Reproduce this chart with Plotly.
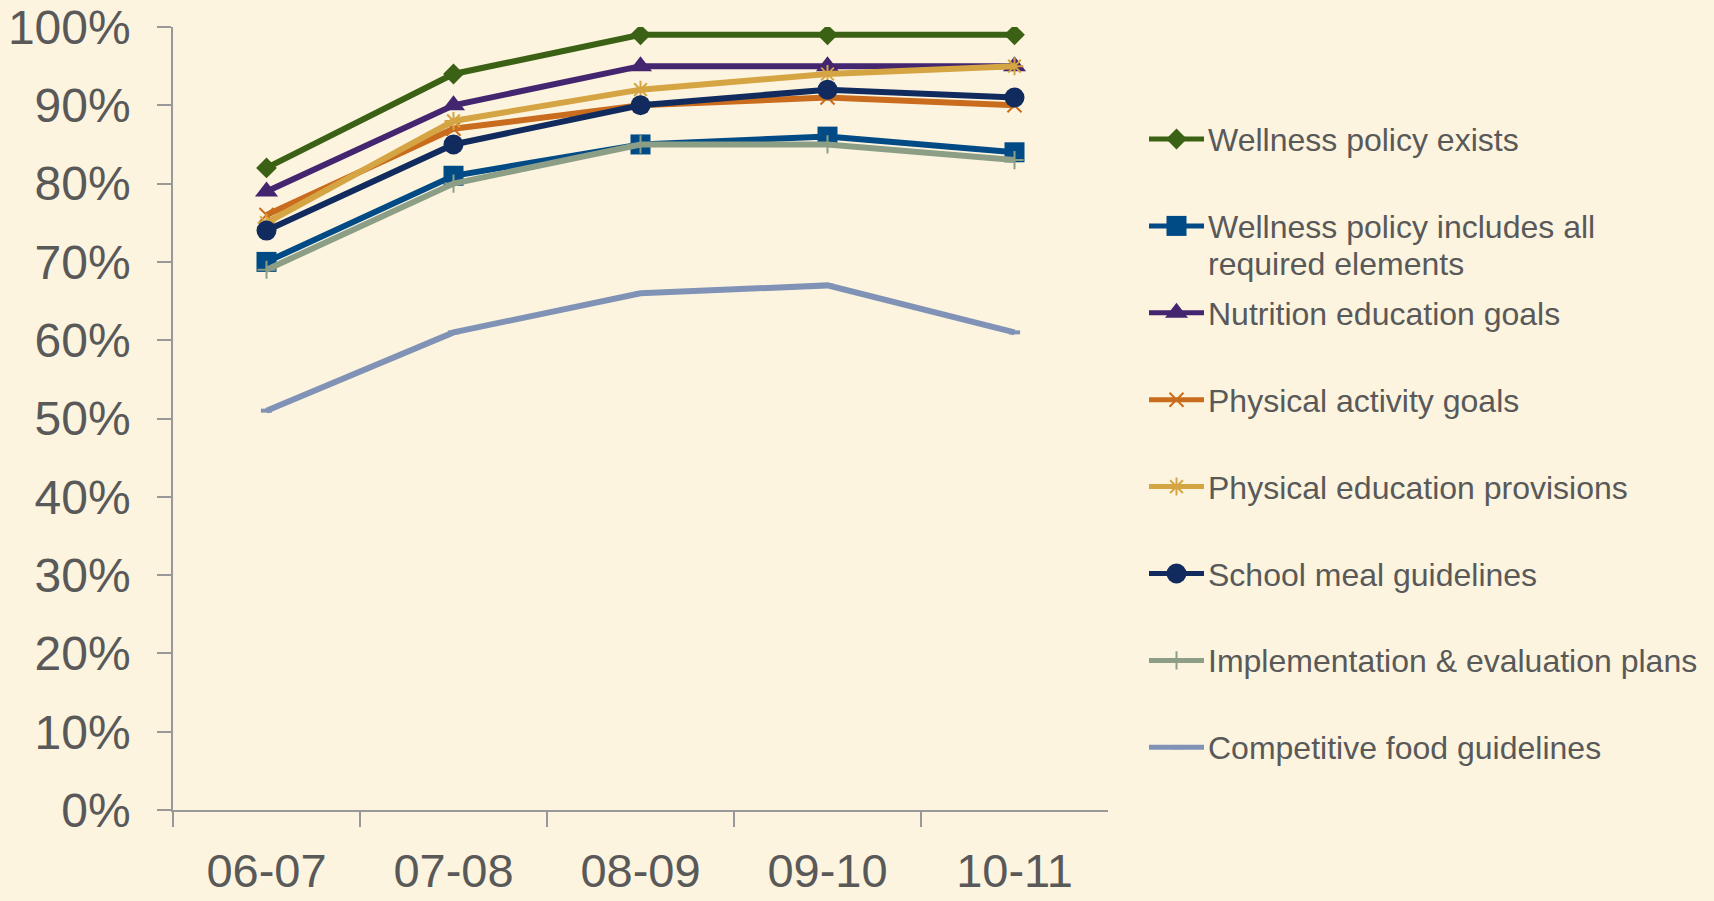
import plotly.graph_objects as go

# School years on the category axis
years = ["06-07", "07-08", "08-09", "09-10", "10-11"]

# Share of districts meeting each wellness-policy criterion (%)
wellness_exists = [82, 94, 99, 99, 99]
all_required = [70, 81, 85, 86, 84]
nutrition_goals = [79, 90, 95, 95, 95]
activity_goals = [76, 87, 90, 91, 90]
pe_provisions = [75, 88, 92, 94, 95]
meal_guidelines = [74, 85, 90, 92, 91]
implementation_plans = [69, 80, 85, 85, 83]
competitive_food = [51, 61, 66, 67, 61]

series_names = [
    "Wellness policy exists",
    "Wellness policy includes all<br>required elements",
    "Nutrition education goals",
    "Physical activity goals",
    "Physical education provisions",
    "School meal guidelines",
    "Implementation & evaluation plans",
    "Competitive food guidelines",
]
series_values = [
    wellness_exists, all_required, nutrition_goals, activity_goals,
    pe_provisions, meal_guidelines, implementation_plans, competitive_food,
]

# Per-series styling: colour, marker symbol, marker size, marker outline width
styles = [
    ("#3B6115", "diamond", 16, 0),
    ("#004A86", "square", 20, 0),
    ("#44256F", "triangle-up", 20, 0),
    ("#C96C1D", "x-thin-open", 14, 2),
    ("#D5A443", "asterisk-open", 15, 2),
    ("#112B5E", "circle", 20, 0),
    ("#8C9F86", "cross-thin-open", 13, 2),
    ("#8093B7", "line-ew-open", 8, 4),
]

BG = "#FCF4DE"
TEXT = "#595959"
AXIS = "#989898"
FONT = "Liberation Sans, Arial"
W, H = 1714, 901

fig = go.Figure()

for name, vals, (color, sym, size, lw) in zip(series_names, series_values, styles):
    fig.add_trace(go.Scatter(
        x=years,
        y=[v / 100 for v in vals],
        name=name.replace("<br>", " "),
        mode="lines+markers",
        line=dict(color=color, width=6),
        marker=dict(symbol=sym, size=size, color=color, opacity=1,
                    line=dict(color=color, width=lw)),
        showlegend=False,
        xaxis="x", yaxis="y",
    ))

# Legend drawn on its own pixel-scaled axes, one evenly spaced row per series
legend_x0, legend_x1 = 1149, 1204
legend_text_x = 1206
legend_top, legend_step, line_gap = 139, 86.9, 37
for i, (name, (color, sym, size, lw)) in enumerate(zip(series_names, styles)):
    ly = legend_top + i * legend_step
    fig.add_trace(go.Scatter(
        x=[legend_x0, (legend_x0 + legend_x1) / 2, legend_x1],
        y=[ly, ly, ly],
        mode="lines+markers",
        line=dict(color=color, width=5),
        marker=dict(symbol=sym, size=[0, size, 0], color=color,
                    opacity=1, line=dict(color=color, width=lw)),
        showlegend=False, hoverinfo="skip",
        xaxis="x2", yaxis="y2",
    ))
    for k, text_line in enumerate(name.split("<br>")):
        fig.add_annotation(
            x=legend_text_x, y=ly + k * line_gap, xref="x2", yref="y2",
            text=text_line, showarrow=False, xanchor="left", yanchor="middle",
            yshift=-1, align="left",
            font=dict(family=FONT, size=32, color=TEXT),
        )

plot_left, plot_right = 173, 1108
plot_top, plot_bottom = 27, 810

fig.update_layout(
    width=W, height=H,
    margin=dict(l=0, r=0, t=0, b=0, autoexpand=False),
    paper_bgcolor=BG, plot_bgcolor=BG,
    font=dict(family=FONT, color=TEXT),
    xaxis=dict(
        type="category",
        domain=[plot_left / W, plot_right / W],
        range=[-0.5, len(years) - 0.5],
        showline=True, linecolor=AXIS, linewidth=1.5,
        ticks="outside", tickson="boundaries", ticklen=15,
        tickcolor=AXIS, tickwidth=1.5,
        showgrid=False, zeroline=False,
        tickfont=dict(size=47, color=TEXT),
        ticklabelstandoff=19,
        automargin=False,
        anchor="y",
    ),
    yaxis=dict(
        domain=[(H - plot_bottom) / H, (H - plot_top) / H],
        range=[0, 1], dtick=0.1, tickformat=".0%",
        showline=True, linecolor=AXIS, linewidth=1.5,
        ticks="outside", ticklen=14, tickcolor=AXIS, tickwidth=1.5,
        showgrid=False, zeroline=False,
        tickfont=dict(size=48, color=TEXT),
        ticklabelstandoff=17,
        automargin=False,
        anchor="x",
    ),
    xaxis2=dict(domain=[1140 / W, 1], range=[1140, W], visible=False,
                fixedrange=True, automargin=False, anchor="y2"),
    yaxis2=dict(domain=[0, 1], range=[H, 0], visible=False,
                fixedrange=True, automargin=False, anchor="x2"),
    showlegend=False,
)

fig.write_html("out.html")
